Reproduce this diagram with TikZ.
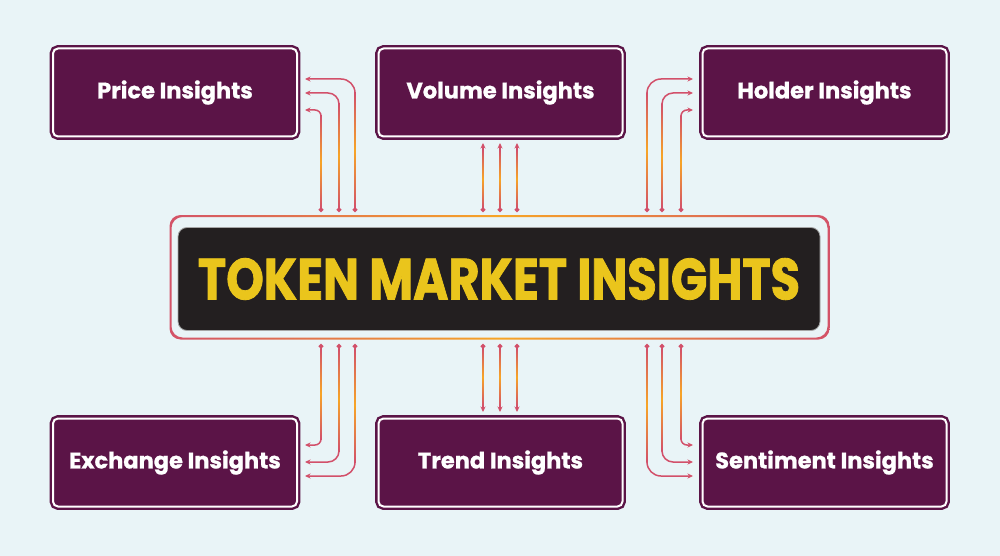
\documentclass[tikz,border=0pt]{standalone}
\usepackage{fontspec}
\setmainfont{Poppins}
\newfontfamily\heavyA{Poppins}[BoldFeatures={FakeBold=1}]
\newfontfamily\heavyB{Poppins}[BoldFeatures={FakeBold=1.5}]
\usetikzlibrary{arrows.meta,calc}
\definecolor{bg}{HTML}{E9F4F7}
\definecolor{plum}{HTML}{5B1447}
\definecolor{pk}{HTML}{D2506A}
\definecolor{orng}{HTML}{F7A526}
\definecolor{ink}{HTML}{231F20}
\definecolor{gold}{HTML}{EAC51C}
\tikzset{
  insight/.style={fill=plum, draw=plum, double=white, double distance=2pt,
    line width=2.4pt, rounded corners=5pt, minimum width=244pt,
    minimum height=88pt, inner sep=0pt, outer sep=0pt, text=white,
    font=\heavyA\bfseries\fontsize{22.5}{26}\selectfont},
  conn/.style={draw=pk, line width=1.5pt,
    {Circle[length=4.5pt]}-{Stealth[length=5.5pt,width=5pt]}},
  glow/.style={top color=pk, bottom color=pk, middle color=orng},
}
\begin{document}
\begin{tikzpicture}[x=1pt,y=-1pt]
\useasboundingbox (0,0) rectangle (1000,556);
\fill[bg] (0,0) rectangle (1000,556);

% outer insight boxes
\node[insight] (price)     at (175,92.5)  {\raisebox{-1.5pt}{Price Insights}};
\node[insight] (volume)    at (500.5,92.5) {\raisebox{-1.5pt}{Volume Insights}};
\node[insight] (holder)    at (824.5,92.5) {\raisebox{-1.5pt}{Holder Insights}};
\node[insight] (exchange)  at (175,462.5) {\raisebox{-1.5pt}{Exchange Insights}};
\node[insight] (trend)     at (500.5,462.5) {\raisebox{-1.5pt}{Trend Insights}};
\node[insight] (sentiment) at (824.5,462.5) {\raisebox{-1.5pt}{Sentiment Insights}};

% central frame with gradient
\begin{scope}[even odd rule, rounded corners=11pt]
  \clip (169.5,215) rectangle (829.5,339.5)
        (171.5,217) rectangle (827.5,337.5);
  \shade[left color=pk, right color=pk, middle color=orng] (160,205) rectangle (840,350);
\end{scope}
\node[fill=ink, draw=gray!70, line width=.8pt, rounded corners=9pt,
      minimum width=642pt, minimum height=103pt, inner sep=0pt,
      text=gold, font=\heavyB\bfseries\fontsize{58}{64}\selectfont] (tmi) at (499,279)
      {\scalebox{0.825}[1]{TOKEN MARKET INSIGHTS}};

% connectors to price / exchange (left) and holder / sentiment (right)
\foreach \x/\dy/\r/\n in {355/13.5/14/a, 339/-0.5/11/b, 321/-17.5/6/c}{
  \coordinate (pt\n) at (\x,212);
  \draw[conn, rounded corners=\r pt, shorten >=8pt] (pt\n) |- ([yshift=\dy pt]price.east);
  \shade[glow] (\x-0.75,208) rectangle (\x+0.75,92.5-\dy+\r);
  \coordinate (pb\n) at (\x,344);
  \draw[conn, rounded corners=\r pt, shorten >=8pt] (pb\n) |- ([yshift=-\dy pt]exchange.east);
  \shade[glow] (\x-0.75,348) rectangle (\x+0.75,462.5+\dy-\r);
}
\foreach \x/\dy/\r/\n in {647/13.5/14/a, 662/-0.5/11/b, 681/-17.5/6/c}{
  \coordinate (ht\n) at (\x,212);
  \draw[conn, rounded corners=\r pt, shorten >=9.5pt] (ht\n) |- ([yshift=\dy pt]holder.west);
  \shade[glow] (\x-0.75,208) rectangle (\x+0.75,92.5-\dy+\r);
  \coordinate (hb\n) at (\x,344);
  \draw[conn, rounded corners=\r pt, shorten >=9.5pt] (hb\n) |- ([yshift=-\dy pt]sentiment.west);
  \shade[glow] (\x-0.75,348) rectangle (\x+0.75,462.5+\dy-\r);
}
% connectors to volume / trend
\foreach \x/\n in {483/a, 500/b, 517/c}{
  \coordinate (vt\n) at (\x,212);
  \draw[conn, shorten >=6.5pt] (vt\n) -- (\x,0 |- volume.south);
  \shade[glow] (\x-0.75,208) rectangle (\x+0.75,150);
  \coordinate (vb\n) at (\x,344);
  \draw[conn, shorten >=6.5pt] (vb\n) -- (\x,0 |- trend.north);
  \shade[glow] (\x-0.75,348) rectangle (\x+0.75,406);
}
\end{tikzpicture}
\end{document}
